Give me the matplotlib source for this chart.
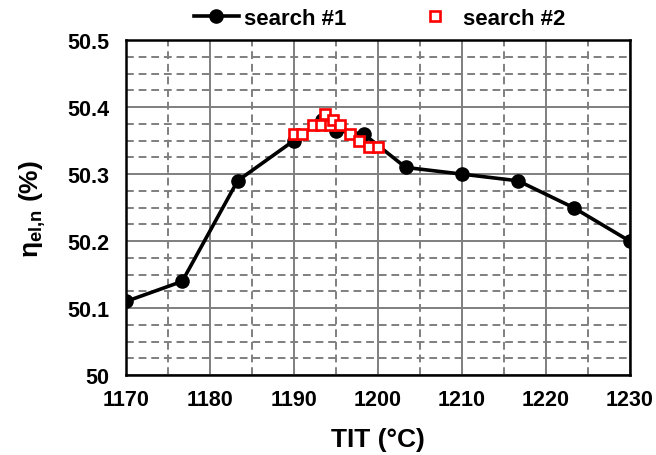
import matplotlib
matplotlib.use("Agg")
import matplotlib.pyplot as plt
from matplotlib.ticker import MultipleLocator, FuncFormatter

plt.rcParams['font.family'] = ['Liberation Sans', 'DejaVu Sans']
plt.rcParams['font.weight'] = 'bold'
plt.rcParams['mathtext.fontset'] = 'custom'
plt.rcParams['mathtext.rm'] = 'Liberation Sans:bold'
plt.rcParams['mathtext.bf'] = 'Liberation Sans:bold'
plt.rcParams['mathtext.it'] = 'Liberation Sans:bold'

# search #1 : coarse sweep of turbine inlet temperature
tit_1 = [1170, 1176.7, 1183.3, 1190, 1193.3, 1195, 1198.3, 1203.3, 1210, 1216.7, 1223.3, 1230]
eta_1 = [50.11, 50.14, 50.29, 50.35, 50.38, 50.365, 50.36, 50.31, 50.30, 50.29, 50.25, 50.20]

# search #2 : refined sweep around the optimum
tit_2 = [1190, 1191, 1192.3, 1193.2, 1193.7, 1194.3, 1194.7, 1195.5, 1196.7, 1197.8, 1198.9, 1200]
eta_2 = [50.36, 50.36, 50.373, 50.373, 50.39, 50.373, 50.38, 50.373, 50.36, 50.35, 50.34, 50.34]

fig = plt.figure(figsize=(6.56, 4.56), dpi=100)
ax = fig.add_axes([0.192, 0.175, 0.768, 0.735])

ax.plot(tit_1, eta_1, color='black', lw=2.6, marker='o', ms=9.5, label='search #1', zorder=3)
ax.plot(tit_2, eta_2, ls='none', marker='s', ms=7, mfc='white', mec='red', mew=1.9,
        label='search #2', zorder=4)

ax.set_xlim(1170, 1230)
ax.set_ylim(50.0, 50.5)
ax.xaxis.set_major_locator(MultipleLocator(10))
ax.xaxis.set_minor_locator(MultipleLocator(5))
ax.yaxis.set_major_locator(MultipleLocator(0.1))
ax.yaxis.set_minor_locator(MultipleLocator(0.025))
ax.yaxis.set_major_formatter(FuncFormatter(lambda v, p: '%g' % round(v, 2)))

ax.grid(which='major', color='#7f7f7f', lw=1.4, ls='-')
ax.grid(which='minor', color='#7f7f7f', lw=1.4, ls=(0, (4, 2.5)))
ax.set_axisbelow(True)

ax.tick_params(which='both', length=0)
ax.tick_params(axis='x', pad=10, labelsize=15.5)
ax.tick_params(axis='y', pad=12, labelsize=15.5)
for s in ax.spines.values():
    s.set_linewidth(1.8)
    s.set_color('black')

ax.set_xlabel('TIT (°C)', fontsize=19, fontweight='bold', labelpad=12)
ax.set_ylabel('η$_{\\mathregular{el{,}n}}$ (%)', fontsize=19, fontweight='bold', labelpad=14)

fig.legend(loc='center', bbox_to_anchor=(0.579, 0.958), ncol=2, frameon=False,
           fontsize=16, handlelength=2.0, handletextpad=0.25, columnspacing=3.0)

fig.savefig('out.png', dpi=100)
